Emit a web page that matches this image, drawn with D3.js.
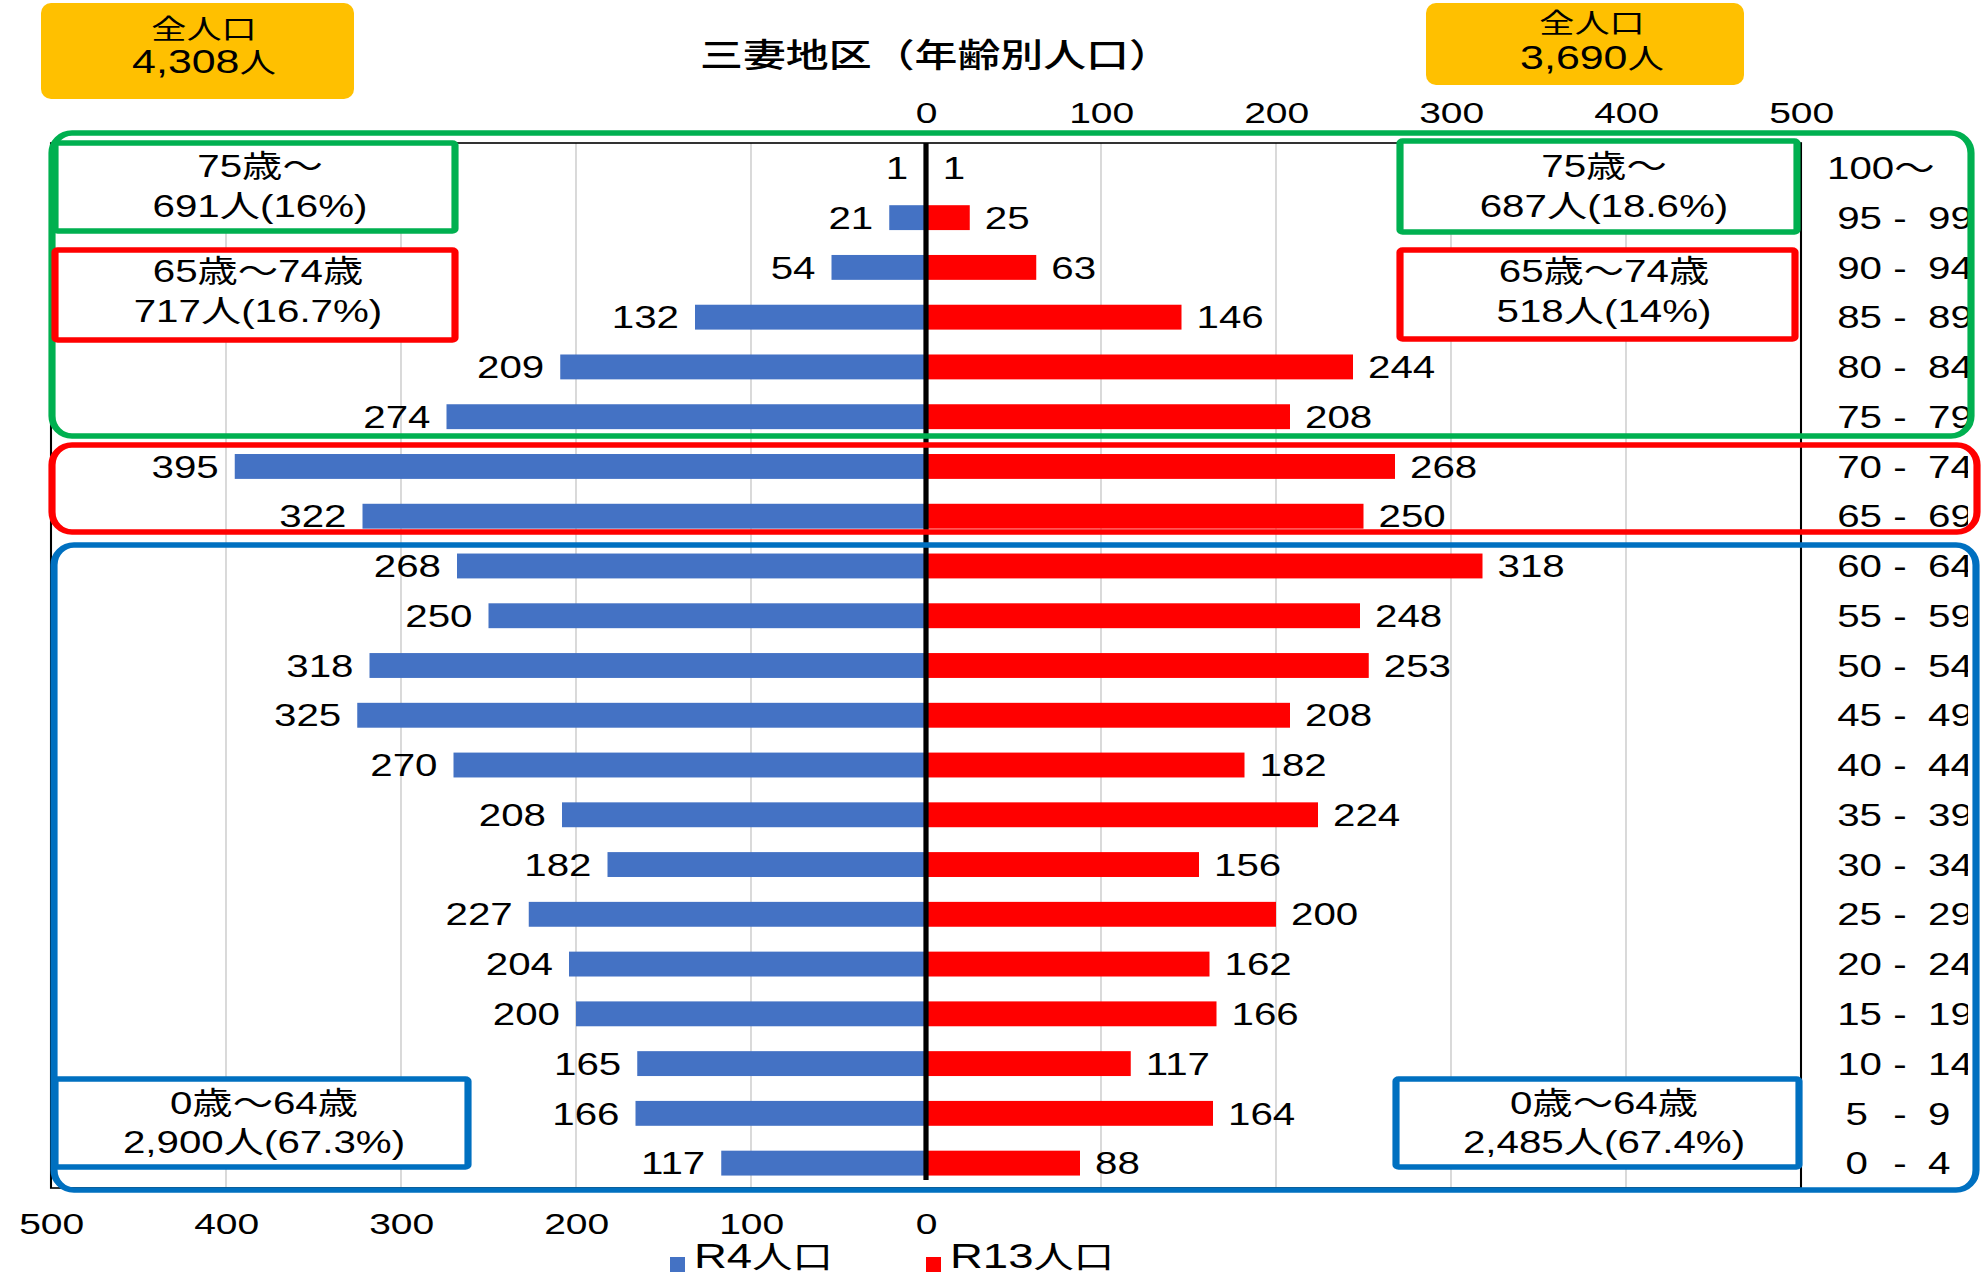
<!DOCTYPE html>
<html><head><meta charset="utf-8">
<script src="https://cdn.jsdelivr.net/npm/d3@7"></script>
<style>
html,body{margin:0;padding:0;background:#fff;}
svg{display:block;}
text{font-family:"Liberation Sans",Arial,"Noto Sans CJK JP",sans-serif;fill:#000;}
</style></head>
<body>
<svg id="c"></svg>
<script>
// ---- data ----
const ages = ["100～","95-99","90-94","85-89","80-84","75-79","70-74","65-69","60-64","55-59","50-54","45-49","40-44","35-39","30-34","25-29","20-24","15-19","10-14","5-9","0-4"];
const r4  = [1,21,54,132,209,274,395,322,268,250,318,325,270,208,182,227,204,200,165,166,117];
const r13 = [1,25,63,146,244,208,268,250,318,248,253,208,182,224,156,200,162,166,117,164,88];
const axisTicks = [0,100,200,300,400,500];
const seriesNames = ["R4人口","R13人口"];
const titleText = "三妻地区（年齢別人口）";
const totalLabel = "全人口";
const totals = ["4,308","3,690"];
const leftNotes  = [["75歳～","691人(16%)"],["65歳～74歳","717人(16.7%)"],["0歳～64歳","2,900人(67.3%)"]];
const rightNotes = [["75歳～","687人(18.6%)"],["65歳～74歳","518人(14%)"],["0歳～64歳","2,485人(67.4%)"]];

// ---- layout (design space stretched horizontally) ----
const W = 1985, H = 1278, S = 1.3;
const X = v => v / S;
const svg = d3.select("#c").attr("width", W).attr("height", H)
  .attr("viewBox", `0 0 ${W / S} ${H}`).attr("preserveAspectRatio", "none");

const yTop = 143, yBot = 1188;
const xR = d3.scaleLinear().domain([0, 500]).range([X(926), X(1801)]);
const xL = d3.scaleLinear().domain([0, 500]).range([X(926), X(51)]);
const y = d3.scaleBand().domain(ages).range([yTop, yBot]).paddingInner(0.5).paddingOuter(0.25);

const colBlue = "#4472C4", colRed = "#FF0000";

// gridlines
const grid = svg.append("g");
axisTicks.filter(t => t > 0 && t < 500).forEach(t => {
  [xL, xR].forEach(sc => grid.append("line").attr("x1", sc(t)).attr("x2", sc(t))
    .attr("y1", yTop).attr("y2", yBot).attr("stroke", "#d9d9d9").attr("stroke-width", 1.5));
});
// frame
svg.append("rect").attr("x", xL(500)).attr("y", yTop).attr("width", xR(500) - xL(500))
  .attr("height", yBot - yTop).attr("fill", "none").attr("stroke", "#000").attr("stroke-width", 1.6);

// bars
svg.append("g").selectAll("rect").data(ages).join("rect")
  .attr("x", (d, i) => xL(r4[i])).attr("y", d => y(d))
  .attr("width", (d, i) => xL(0) - xL(r4[i])).attr("height", y.bandwidth()).attr("fill", colBlue);
svg.append("g").selectAll("rect").data(ages).join("rect")
  .attr("x", xR(0)).attr("y", d => y(d))
  .attr("width", (d, i) => xR(r13[i]) - xR(0)).attr("height", y.bandwidth()).attr("fill", colRed);

// center line
svg.append("line").attr("x1", xR(0)).attr("x2", xR(0)).attr("y1", yTop).attr("y2", 1180)
  .attr("stroke", "#000").attr("stroke-width", 4);

// value labels
svg.append("g").selectAll("text").data(ages).join("text")
  .attr("x", (d, i) => xL(r4[i]) - X(16)).attr("y", d => y(d) + y.bandwidth() / 2)
  .attr("dy", "0.36em").attr("text-anchor", "end").attr("font-size", 31).text((d, i) => r4[i]);
svg.append("g").selectAll("text").data(ages).join("text")
  .attr("x", (d, i) => xR(r13[i]) + X(15)).attr("y", d => y(d) + y.bandwidth() / 2)
  .attr("dy", "0.36em").attr("text-anchor", "start").attr("font-size", 31).text((d, i) => r13[i]);

// axes
const axT = svg.append("g").attr("transform", "translate(0,112)")
  .call(d3.axisTop(xR).tickValues(axisTicks).tickSize(0).tickFormat(d3.format("d")));
axT.select(".domain").remove();
axT.attr("font-family", null).attr("font-size", null);
axT.selectAll("text").attr("y", 0).attr("dy", "0.36em").attr("font-size", 30).style("fill", "#000");
const axB = svg.append("g").attr("transform", "translate(0,1223)")
  .call(d3.axisBottom(xL).tickValues(axisTicks).tickSize(0).tickFormat(d3.format("d")));
axB.select(".domain").remove();
axB.attr("font-family", null).attr("font-size", null);
axB.selectAll("text").attr("y", 0).attr("dy", "0.36em").attr("font-size", 30).style("fill", "#000");

// age labels (clipped at right box)
svg.append("clipPath").attr("id", "clipAge").append("rect")
  .attr("x", X(1805)).attr("y", 0).attr("width", X(1968) - X(1805)).attr("height", H);
const ageG = svg.append("g").attr("clip-path", "url(#clipAge)");
ages.forEach(a => {
  const cy = y(a) + y.bandwidth() / 2;
  if (a.indexOf("-") < 0) {
    ageG.append("text").attr("x", X(1827)).attr("y", cy).attr("dy", "0.36em").attr("font-size", 31).text(a);
  } else {
    const [p1, p2] = a.split("-");
    ageG.append("text").attr("x", X(p1.length > 1 ? 1882 : 1868)).attr("y", cy).attr("dy", "0.36em")
      .attr("text-anchor", "end").attr("font-size", 31).text(p1);
    ageG.append("text").attr("x", X(1900)).attr("y", cy).attr("dy", "0.36em")
      .attr("text-anchor", "middle").attr("font-size", 31).text("-");
    ageG.append("text").attr("x", X(1928)).attr("y", cy).attr("dy", "0.36em")
      .attr("font-size", 31).text(p2);
  }
});

// big group boxes
function rbox(x1, y1, x2, y2, col, sw, r) {
  svg.append("rect").attr("x", X(x1)).attr("y", y1).attr("width", X(x2) - X(x1)).attr("height", y2 - y1)
    .attr("rx", X(r)).attr("ry", r).attr("fill", "none").attr("stroke", col).attr("stroke-width", sw);
}
rbox(52, 133, 1971, 436, "#00B050", 5.5, 20);
rbox(52, 445, 1977, 532, "#FF0000", 5.5, 20);
rbox(54, 545, 1976, 1190, "#0070C0", 5.5, 20);

// small note boxes
function note(x1, y1, x2, y2, col, lines, cx, ty) {
  svg.append("rect").attr("x", X(x1)).attr("y", y1).attr("width", X(x2) - X(x1)).attr("height", y2 - y1)
    .attr("rx", 2).attr("fill", "#fff").attr("stroke", col).attr("stroke-width", 5.5);
  lines.forEach((l, i) => svg.append("text").attr("x", X(cx)).attr("y", ty[i]).attr("dy", "0.36em")
    .attr("text-anchor", "middle").attr("font-size", 31).text(l));
}
note(55, 143, 455, 231, "#00B050", leftNotes[0], 260, [166, 206]);
note(55, 250, 455, 340, "#FF0000", leftNotes[1], 258, [271, 311]);
note(55, 1079, 468, 1167, "#0070C0", leftNotes[2], 264, [1103, 1142]);
note(1400, 141, 1797, 232, "#00B050", rightNotes[0], 1604, [166, 206]);
note(1400, 250, 1795, 339, "#FF0000", rightNotes[1], 1604, [271, 311]);
note(1396, 1079, 1799, 1167, "#0070C0", rightNotes[2], 1604, [1103, 1142]);

// total boxes
function total(x1, y1, x2, y2, cx, y1t, y2t, val) {
  svg.append("rect").attr("x", X(x1)).attr("y", y1).attr("width", X(x2) - X(x1)).attr("height", y2 - y1)
    .attr("rx", X(10)).attr("ry", 10).attr("fill", "#FFC000");
  svg.append("text").attr("x", X(cx)).attr("y", y1t).attr("dy", "0.36em").attr("text-anchor", "middle")
    .attr("font-size", 27).text(totalLabel);
  const t = svg.append("text").attr("x", X(cx)).attr("y", y2t).attr("dy", "0.36em").attr("text-anchor", "middle");
  t.append("tspan").attr("font-size", 33).text(val);
  t.append("tspan").attr("font-size", 28).text("人");
}
total(41, 3, 354, 99, 204, 29, 67, totals[0]);
total(1426, 3, 1744, 85, 1592, 23, 63, totals[1]);

// title
svg.append("text").attr("x", X(936)).attr("y", 55).attr("dy", "0.36em").attr("text-anchor", "middle")
  .attr("font-size", 33).attr("font-weight", 500)
  .style("font-family", "'Noto Sans CJK JP',sans-serif").text(titleText);

// legend
const leg = [{x: 670, c: colBlue, n: seriesNames[0]}, {x: 926, c: colRed, n: seriesNames[1]}];
leg.forEach(l => {
  svg.append("rect").attr("x", X(l.x)).attr("y", 1257).attr("width", X(15)).attr("height", 15).attr("fill", l.c);
  const m = l.n.match(/^([A-Za-z0-9]+)(.*)$/);
  const t = svg.append("text").attr("x", X(l.x + 24)).attr("y", 1262).attr("dy", "0.36em");
  t.append("tspan").attr("font-size", 35).text(m[1]);
  t.append("tspan").attr("font-size", 31).text(m[2]);
});
</script>
</body></html>
